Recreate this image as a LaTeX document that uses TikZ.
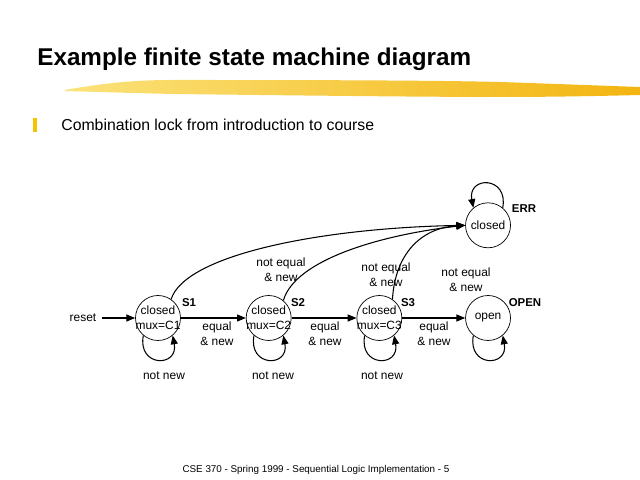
\documentclass[tikz,border=0pt]{standalone}
\usepackage{fontspec}
\setmainfont{Liberation Sans}
\usetikzlibrary{arrows.meta,positioning}
\definecolor{brushlight}{HTML}{FBE27A}
\definecolor{brushmid}{HTML}{F7CD30}
\definecolor{brushdark}{HTML}{F3B510}
\definecolor{bulletyellow}{HTML}{F5C400}

\begin{document}
\begin{tikzpicture}[x=0.02cm,y=0.02cm,
    node distance=1.3cm,
    every node/.style={font=\fontsize{6.8}{8.5}\selectfont},
    state/.style={circle,draw,minimum size=0.9cm,inner sep=-6pt,align=center},
    tag/.style={font=\fontsize{6.5}{8}\selectfont\bfseries},
    cond/.style={align=center},
    arrow/.style={-{Triangle[length=5pt,width=4pt]},semithick}
]
\useasboundingbox (0,0) rectangle (640,480);

% Slide heading
\node[anchor=base west,inner sep=0pt,font=\fontsize{13.8}{16}\selectfont\bfseries] (title) at (37,414) {Example finite state machine diagram};
\shade[left color=brushlight,middle color=brushmid,right color=brushdark] (65,390) .. controls (110,398) and (140,400) .. (173,400) .. controls (260,400) and (420,400) .. (500,398) .. controls (560,396) and (610,394) .. (640,393) -- (640,385) .. controls (600,384) and (550,383) .. (500,383) .. controls (420,383) and (260,385) .. (173,386) .. controls (130,387) and (100,388) .. (65,389) -- cycle;
\fill[bulletyellow] (33,348) rectangle (37,362);
\node[anchor=west,inner sep=0pt,font=\fontsize{9}{11}\selectfont] (intro) at (61,355) {Combination lock from introduction to course};

% States
\node[state] (s1) at (158,162) {closed\\mux=C1};
\node[state,right=of s1] (s2) {closed\\mux=C2};
\node[state,right=of s2] (s3) {closed\\mux=C3};
\node[state,right=1.26cm of s3] (open) {open};
\node[state,above=0.94cm of open] (err) {closed};

% State names
\node[tag] (t1) at (189,177) {S1};
\node[tag] (t2) at (298,177) {S2};
\node[tag] (t3) at (408,177) {S3};
\node[tag] (topen) at (525,177) {OPEN};
\node[tag] (terr) at (524,271) {ERR};

% Transitions
\node (reset) at (83,162) {reset};
\draw[arrow] (reset) -- (s1);
\draw[arrow] (s1) -- (s2);
\draw[arrow] (s2) -- (s3);
\draw[arrow] (s3) -- (open);
\draw[arrow] (s1.55) .. controls (185,225) and (320,252) .. (err.west);
\draw[arrow] (s2.50) .. controls (295,220) and (380,245) .. (err.west);
\draw[arrow] (s3.55) .. controls (395,225) and (420,252) .. (err.west);

% Self loops
\draw[arrow] (s1.230) .. controls +(-6,-32) and +(6,-32) .. (s1.310);
\draw[arrow] (s2.230) .. controls +(-6,-32) and +(6,-32) .. (s2.310);
\draw[arrow] (s3.230) .. controls +(-6,-32) and +(6,-32) .. (s3.310);
\draw[arrow] (open.230) .. controls +(-6,-32) and +(6,-32) .. (open.310);
\draw[arrow] (err.50) .. controls +(6,32) and +(-6,32) .. (err.130);

% Conditions
\node[cond] (c1) at (217,146) {equal\\\& new};
\node[cond] (c2) at (325,146) {equal\\\& new};
\node[cond] (c3) at (434,146) {equal\\\& new};
\node (n1) at (164,104) {not new};
\node (n2) at (273,104) {not new};
\node (n3) at (382,104) {not new};
\node[cond] (e1) at (281,210) {not equal\\\& new};
\node[cond] (e2) at (386,205) {not equal\\\& new};
\node[cond] (e3) at (466,200) {not equal\\\& new};

% Footer
\node[font=\fontsize{5.6}{7}\selectfont] (foot) at (316,10) {CSE 370 - Spring 1999 - Sequential Logic Implementation - 5};

\end{tikzpicture}
\end{document}
